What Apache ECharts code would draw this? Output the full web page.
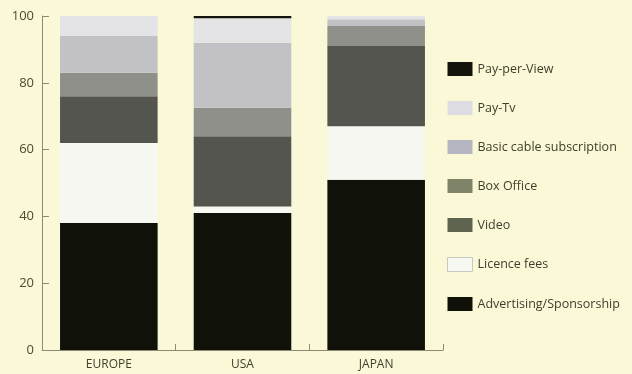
<!DOCTYPE html>
<html>
<head>
<meta charset="utf-8">
<script src="https://cdn.jsdelivr.net/npm/echarts@6/dist/echarts.min.js"></script>
<style>
  html, body { margin: 0; padding: 0; background: #fbf8d8; }
  #chart { width: 632px; height: 374px; }
</style>
</head>
<body>
<div id="chart"></div>
<script>
// categories
var regions = ["EUROPE", "USA", "JAPAN"];
// revenue share per source, %
var advertising = [38, 41, 51];
var licenceFees = [24, 2, 16];
var video = [14, 21, 24];
var boxOffice = [7, 8.5, 6];
var basicCable = [11, 19.5, 2];
var payTv = [6, 7.3, 1];
var payPerView = [0, 0.7, 0];

var seriesNames = ["Advertising/Sponsorship", "Licence fees", "Video", "Box Office",
  "Basic cable subscription", "Pay-Tv", "Pay-per-View"];
var seriesData = [advertising, licenceFees, video, boxOffice, basicCable, payTv, payPerView];
var colors = ["#10120a", "#f8f8f2", "#54554f", "#8f908a", "#c2c2c6", "#e4e4e6", "#14140c"];
var legendColors = ["#10120a", "#f8f8f2", "#5f6450", "#7f8468", "#b6b6c2", "#dcdce2", "#14140c"];

var chart = echarts.init(document.getElementById("chart"));
var series = seriesNames.map(function (name, i) {
  return {
    name: name,
    type: "bar",
    stack: "total",
    barWidth: "73%",
    itemStyle: { color: colors[i] },
    emphasis: { disabled: true },
    data: seriesData[i]
  };
});

chart.setOption({
  backgroundColor: "#fbf8d8",
  animation: false,
  textStyle: { fontFamily: "'Open Sans', sans-serif" },
  grid: { left: 42, right: 189, top: 16, bottom: 24 },
  legend: {
    orient: "vertical",
    left: 442,
    top: 57,
    itemWidth: 25,
    itemHeight: 14,
    itemGap: 25,
    icon: "rect",
    textStyle: { color: "#3e3e2c", fontSize: 12.5 },
    data: seriesNames.slice().reverse().map(function (n) {
      var i = seriesNames.indexOf(n);
      return { name: n, itemStyle: { color: legendColors[i], borderColor: "#c8c8c0", borderWidth: i === 1 ? 1 : 0 } };
    })
  },
  xAxis: {
    type: "category",
    data: regions,
    axisLine: { lineStyle: { color: "#8c8c74", width: 1 } },
    axisTick: { show: true, inside: true, length: 6, lineStyle: { color: "#8c8c74" } },
    axisLabel: { color: "#3e3e2c", fontSize: 12, margin: 9 }
  },
  yAxis: {
    type: "value",
    min: 0,
    max: 100,
    interval: 20,
    splitLine: { show: false },
    axisLine: { show: true, lineStyle: { color: "#8c8c74", width: 1 } },
    axisTick: { show: true, inside: true, length: 7, lineStyle: { color: "#8c8c74" } },
    axisLabel: { color: "#4a4a30", fontSize: 13, margin: 8 }
  },
  series: series
});
</script>
</body>
</html>
